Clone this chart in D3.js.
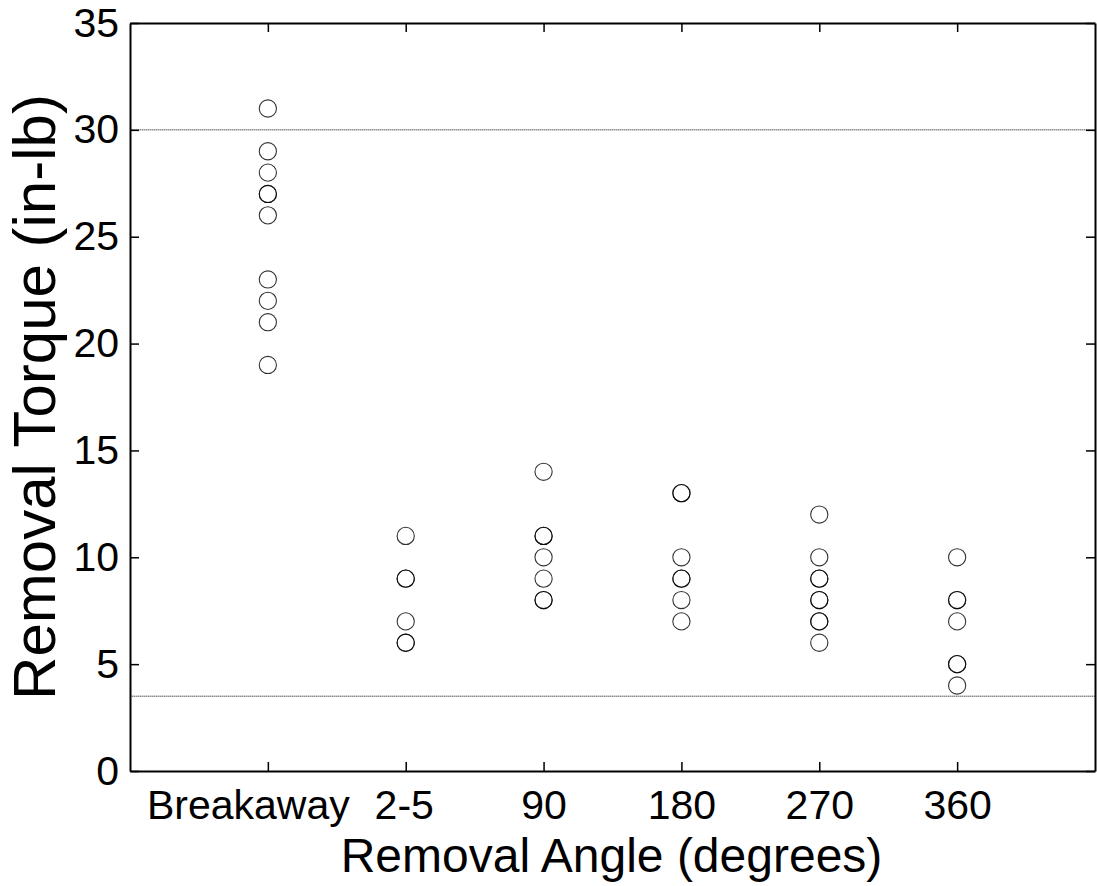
<!DOCTYPE html>
<html>
<head>
<meta charset="utf-8">
<script src="https://d3js.org/d3.v7.min.js"></script>
<style>
  html, body { margin: 0; padding: 0; background: #fff; }
  svg { display: block; }
  text { font-family: "Liberation Sans", Arial, sans-serif; fill: #000; }
</style>
</head>
<body>
<svg id="chart" width="1097" height="886"></svg>
<script>
// ---- data ----
const categories = ["Breakaway", "2-5", "90", "180", "270", "360"];
const breakaway = [31, 29, 28, 27, 27, 26, 23, 22, 21, 19];
const angle2to5 = [11, 9, 9, 7, 6, 6];
const angle90 = [14, 11, 11, 10, 9, 8, 8];
const angle180 = [13, 13, 10, 9, 9, 8, 7];
const angle270 = [12, 10, 9, 9, 8, 8, 7, 7, 6];
const angle360 = [10, 8, 8, 7, 5, 5, 4];
const seriesValues = [breakaway, angle2to5, angle90, angle180, angle270, angle360];
const yTicks = [0, 5, 10, 15, 20, 25, 30, 35];
const limitLines = [30, 3.5];

// ---- layout ----
const svg = d3.select("#chart");
const pLeft = 130, pRight = 1095, pTop = 23, pBottom = 771;

const x = d3.scaleLinear().domain([0, categories.length + 1]).range([pLeft, pRight]);
const y = d3.scaleLinear().domain([0, 35]).range([pBottom, pTop]);

const g = svg.append("g");

// reference lines
g.selectAll("line.limit").data(limitLines).enter().append("line")
  .attr("class", "limit")
  .attr("x1", pLeft).attr("x2", pRight)
  .attr("y1", d => y(d)).attr("y2", d => y(d))
  .attr("stroke", "#555").attr("stroke-width", 1)
  .attr("stroke-dasharray", "1.5,0.5");

// axes (MATLAB-like box with inward ticks)
const tickLen = 9;
const catIdx = categories.map((c, i) => i + 1);

const axLeft = d3.axisLeft(y).tickValues(yTicks).tickSizeInner(-tickLen).tickSizeOuter(0).tickPadding(11);
const axRight = d3.axisRight(y).tickValues(yTicks).tickSizeInner(-tickLen).tickSizeOuter(0).tickFormat("");
const axBottom = d3.axisBottom(x).tickValues(catIdx).tickSizeInner(-tickLen).tickSizeOuter(0)
  .tickFormat(d => categories[d - 1]).tickPadding(19);
const axTop = d3.axisTop(x).tickValues(catIdx).tickSizeInner(-tickLen).tickSizeOuter(0).tickFormat("");

function styleAxis(sel, fontSize) {
  sel.select(".domain").attr("stroke", "#000").attr("stroke-width", 2);
  sel.selectAll(".tick line").attr("stroke", "#000").attr("stroke-width", 1.5);
  sel.selectAll(".tick text").attr("font-size", fontSize).attr("fill", "#000")
    .attr("font-family", '"Liberation Sans", Arial, sans-serif');
}

g.append("g").attr("transform", `translate(${pLeft},0)`).call(axLeft).call(s => styleAxis(s, 41));
g.append("g").attr("transform", `translate(${pRight},0)`).call(axRight).call(s => styleAxis(s, 41));
const gBottom = g.append("g").attr("transform", `translate(0,${pBottom})`).call(axBottom).call(s => styleAxis(s, 41));
g.append("g").attr("transform", `translate(0,${pTop})`).call(axTop).call(s => styleAxis(s, 41));

// the first label sits slightly left of its tick in the original
const labelShift = { "Breakaway": -20, "2-5": -2 };
gBottom.selectAll(".tick text").attr("dx", d => labelShift[categories[d - 1]] || 0);

// points
const pts = [];
seriesValues.forEach((vals, i) => vals.forEach(v => pts.push({ c: i + 1, v })));
g.selectAll("circle.pt").data(pts).enter().append("circle")
  .attr("class", "pt")
  .attr("cx", d => x(d.c)).attr("cy", d => y(d.v))
  .attr("r", 8.6)
  .attr("fill", "none").attr("stroke", "#000").attr("stroke-width", 1.1)
  .attr("stroke-opacity", 0.8);

// axis titles
svg.append("text")
  .attr("x", (pLeft + pRight) / 2 - 1).attr("y", 872)
  .attr("text-anchor", "middle").attr("font-size", 48)
  .text("Removal Angle (degrees)");

svg.append("text")
  .attr("transform", `translate(55,${(pTop + pBottom) / 2}) rotate(-90)`)
  .attr("text-anchor", "middle").attr("font-size", 60)
  .text("Removal Torque (in-lb)");
</script>
</body>
</html>
